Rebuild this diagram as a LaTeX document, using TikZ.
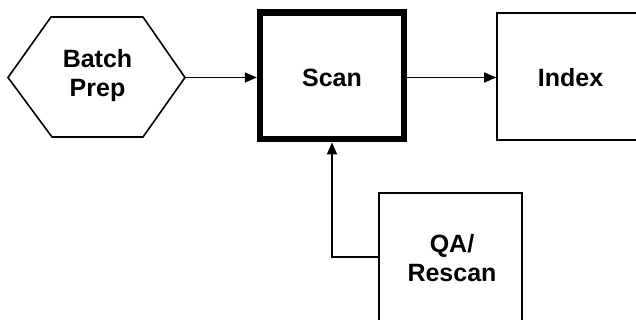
\documentclass[tikz,border=0pt]{standalone}
\usepackage{fontspec}
\setmainfont{Liberation Sans}
\usetikzlibrary{arrows.meta}
\begin{document}
\begin{tikzpicture}[x=1pt,y=-1pt,
  lbl/.style={align=center,font=\bfseries\fontsize{25}{29}\selectfont,inner sep=0pt},
  thinbox/.style={draw=black,line width=1.6pt,inner sep=0pt},
  flow/.style={draw=black,line width=1.6pt,-{Triangle[length=12pt,width=10pt]}}]
  \useasboundingbox (0,0) rectangle (636,320);
  \clip (0,0) rectangle (636,320);
  \fill[white] (0,0) rectangle (636,320);

  % hexagonal preparation step
  \draw[line width=1.6pt,line join=miter]
    (8,77.5) -- (51,17) -- (143,17) -- (185,77.5) -- (143,137) -- (52,137) -- cycle;
  \node[lbl] (prep) at (97.5,76) {Batch\\Prep};
  \coordinate (prepR) at (185,77.5);

  % main scanning step, heavy border
  \node[draw=black,line width=6.5pt,minimum width=144pt,minimum height=126.5pt,inner sep=0pt]
    (scan) at (332,76) {};
  \node[lbl] (scantxt) at (332,78) {Scan};

  % index step, open to the right
  \node[thinbox,minimum width=147pt,minimum height=127pt] (index) at (570.5,76.5) {};
  \node[lbl] (indextxt) at (570.5,78) {Index};

  % quality check step
  \node[thinbox,minimum width=143pt,minimum height=130pt] (qa) at (450.5,258) {};
  \node[lbl] (qatxt) at (452,258) {QA/\\Rescan};

  % connectors
  \draw[flow] (prepR) -- (scan.west |- prepR);
  \draw[flow] (scan.east |- prepR) -- (index.west |- prepR);
  \coordinate (bend) at (332,257);
  \draw[flow,line join=miter] (qa.west |- bend) -- (bend) -- (scan.south);
\end{tikzpicture}
\end{document}
